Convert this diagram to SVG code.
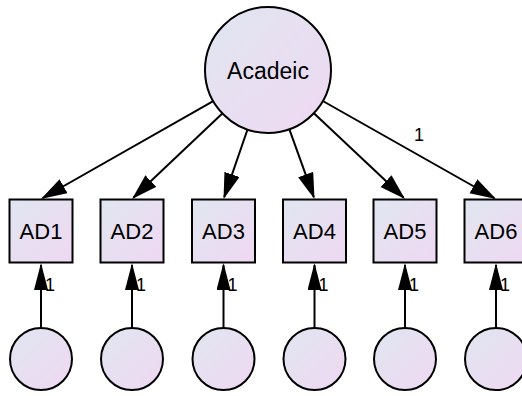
<svg xmlns="http://www.w3.org/2000/svg" width="522" height="396" viewBox="0 0 522 396">
  <defs>
    <linearGradient id="fill" x1="0" y1="0" x2="1" y2="1">
      <stop offset="0" stop-color="#e0e6f0"/>
      <stop offset="1" stop-color="#efd8f2"/>
    </linearGradient>
    <marker id="arrow" markerUnits="userSpaceOnUse" markerWidth="30" markerHeight="18" refX="24" refY="8" orient="auto">
      <path d="M0,0 L26,8 L0,16 z" fill="#000"/>
    </marker>
    <marker id="arrowE" markerUnits="userSpaceOnUse" markerWidth="30" markerHeight="16" refX="25" refY="7" orient="auto">
      <path d="M0,0 L27,7 L0,14 z" fill="#000"/>
    </marker>
  </defs>
  <style>
    .shape { fill: url(#fill); stroke: #000; stroke-width: 2; }
    .lbl { font-family: "Liberation Sans", Arial, sans-serif; font-size: 22px; fill: #000; text-anchor: middle; }
    .big { font-size: 23px; }
    .one { font-family: "Liberation Sans", Arial, sans-serif; font-size: 18px; fill: #000; }
    .edge { stroke: #000; stroke-width: 2; fill: none; marker-end: url(#arrow); }
    .err { stroke: #000; stroke-width: 2; fill: none; marker-end: url(#arrowE); }
  </style>

  <!-- connectors: factor loadings and error terms -->
  <g id="connectors">
    <line class="edge" x1="213.2" y1="101.1" x2="42.7" y2="198.0"/>
    <line class="edge" x1="222.3" y1="113.4" x2="133.5" y2="197.6"/>
    <line class="edge" x1="247.5" y1="129.5" x2="224.2" y2="197.1"/>
    <line class="edge" x1="289.4" y1="129.3" x2="313.8" y2="197.1"/>
    <line class="edge" x1="313.9" y1="113.2" x2="403.5" y2="197.6"/>
    <line class="edge" x1="322.8" y1="101.0" x2="494.3" y2="198.0"/>

    <line class="err" x1="41" y1="328" x2="41" y2="265"/>
    <line class="err" x1="132" y1="328" x2="132" y2="265"/>
    <line class="err" x1="223.5" y1="328" x2="223.5" y2="265"/>
    <line class="err" x1="314.5" y1="328" x2="314.5" y2="265"/>
    <line class="err" x1="405" y1="328" x2="405" y2="265"/>
    <line class="err" x1="496" y1="328" x2="496" y2="265"/>

    <text class="one" x="414" y="141">1</text>
    <text class="one" x="45" y="291">1</text>
    <text class="one" x="136" y="291">1</text>
    <text class="one" x="227.5" y="291">1</text>
    <text class="one" x="318.5" y="291">1</text>
    <text class="one" x="409" y="291">1</text>
    <text class="one" x="500" y="291">1</text>
  </g>

  <!-- latent factor -->
  <g id="Acadeic">
    <circle class="shape" cx="268" cy="70" r="63"/>
    <text class="lbl big" x="268" y="78.5">Acadeic</text>
  </g>

  <!-- observed indicators -->
  <g id="AD1"><rect class="shape" x="9.5" y="199.5" width="63" height="63"/><text class="lbl" x="41" y="239">AD1</text></g>
  <g id="AD2"><rect class="shape" x="100.5" y="199.5" width="63" height="63"/><text class="lbl" x="132" y="239">AD2</text></g>
  <g id="AD3"><rect class="shape" x="192" y="199.5" width="63" height="63"/><text class="lbl" x="223.5" y="239">AD3</text></g>
  <g id="AD4"><rect class="shape" x="283" y="199.5" width="63" height="63"/><text class="lbl" x="314.5" y="239">AD4</text></g>
  <g id="AD5"><rect class="shape" x="373.5" y="199.5" width="63" height="63"/><text class="lbl" x="405" y="239">AD5</text></g>
  <g id="AD6"><rect class="shape" x="464.5" y="199.5" width="63" height="63"/><text class="lbl" x="496" y="239">AD6</text></g>

  <!-- error terms -->
  <g id="e1"><circle class="shape" cx="41" cy="359" r="31"/></g>
  <g id="e2"><circle class="shape" cx="132" cy="359" r="31"/></g>
  <g id="e3"><circle class="shape" cx="223.5" cy="359" r="31"/></g>
  <g id="e4"><circle class="shape" cx="314.5" cy="359" r="31"/></g>
  <g id="e5"><circle class="shape" cx="405" cy="359" r="31"/></g>
  <g id="e6"><circle class="shape" cx="496" cy="359" r="31"/></g>
</svg>
